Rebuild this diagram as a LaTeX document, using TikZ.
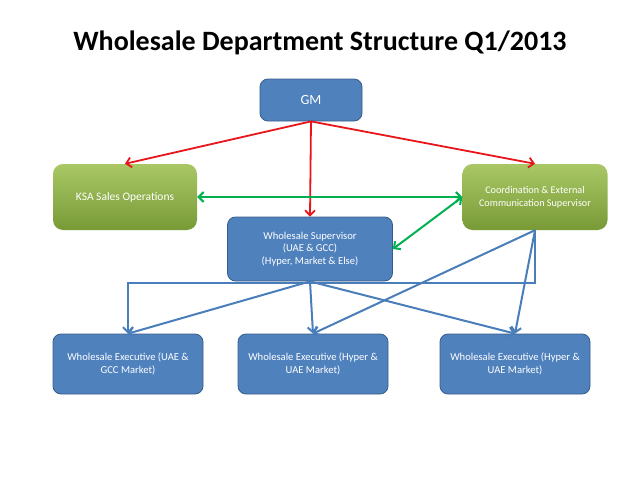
\documentclass[tikz,border=0pt]{standalone}
\usepackage{fontspec}
\setmainfont{Carlito}
\usetikzlibrary{arrows.meta}
\definecolor{boxblue}{HTML}{4F81BD}
\definecolor{boxbluedark}{HTML}{385D8A}
\definecolor{greenlight}{HTML}{A9C865}
\definecolor{greendark}{HTML}{789A36}
\definecolor{redline}{HTML}{E8161B}
\definecolor{greenline}{HTML}{00B050}
\definecolor{blueline}{HTML}{4A7EBB}
\begin{document}
\begin{tikzpicture}[x=1pt,y=-1pt,
  bluebox/.style={draw=boxbluedark, fill=boxblue, line width=0.8pt, rounded corners=8pt,
    text=white, align=center, font=\fontsize{10.6}{12.6}\selectfont, inner sep=0pt},
  greenbox/.style={draw=none, top color=greenlight, bottom color=greendark, rounded corners=10pt,
    text=white, align=center, font=\fontsize{10.2}{12.7}\selectfont, inner sep=0pt},
  redarrow/.style={draw=redline, line width=1.8pt, -{Straight Barb[length=5pt,width=10pt]}},
  greenarrow/.style={draw=greenline, line width=2pt, {Straight Barb[length=5pt,width=10pt]}-{Straight Barb[length=5pt,width=10pt]}},
  bluearrow/.style={draw=blueline, line width=2pt, -{Straight Barb[length=5pt,width=10pt]}}
]
\useasboundingbox (0,0) rectangle (638,479);
\node (title) at (320,43) {\fontsize{28}{32}\selectfont\bfseries Wholesale Department Structure Q1/2013};
\node[bluebox, minimum width=102pt, minimum height=42pt] (gm) at (311,100) {\fontsize{14}{16}\selectfont GM};
\node[greenbox, minimum width=144pt, minimum height=66pt] (ksa) at (125,197) {\fontsize{11.5}{13}\selectfont KSA Sales Operations};
\node[greenbox, minimum width=145pt, minimum height=66pt] (coord) at (535,197) {Coordination \& External\\Communication Supervisor};
\node[bluebox, minimum width=165pt, minimum height=64pt] (sup) at (310,249) {Wholesale Supervisor\\(UAE \& GCC)\\(Hyper, Market \& Else)};
\node[bluebox, minimum width=150pt, minimum height=60pt] (e1) at (128,364) {Wholesale Executive (UAE \&\\GCC Market)};
\node[bluebox, minimum width=150pt, minimum height=60pt] (e2) at (313,364) {Wholesale Executive (Hyper \&\\UAE Market)};
\node[bluebox, minimum width=150pt, minimum height=60pt] (e3) at (515,364) {Wholesale Executive (Hyper \&\\UAE Market)};
\coordinate (bus) at (0,283);
% red
\draw[redarrow] (gm.south) -- (ksa.north);
\draw[redarrow] (gm.south) -- (coord.north);
\draw[redarrow] (gm.south) -- (sup.north);
% green
\draw[greenarrow] (ksa.east) -- (coord.west);
\draw[greenarrow] (sup.east) -- (coord.west);
% blue
\draw[bluearrow] (sup.south) -- (e1.north);
\draw[bluearrow] (sup.south) -- (e2.north);
\draw[bluearrow] (sup.south) -- (e3.north);
\draw[bluearrow] (coord.south) -- (e2.north);
\draw[bluearrow] (coord.south) -- (e3.north);
\draw[bluearrow] (coord.south) -- (coord.south |- bus) -| (e1.north);
\end{tikzpicture}
\end{document}
